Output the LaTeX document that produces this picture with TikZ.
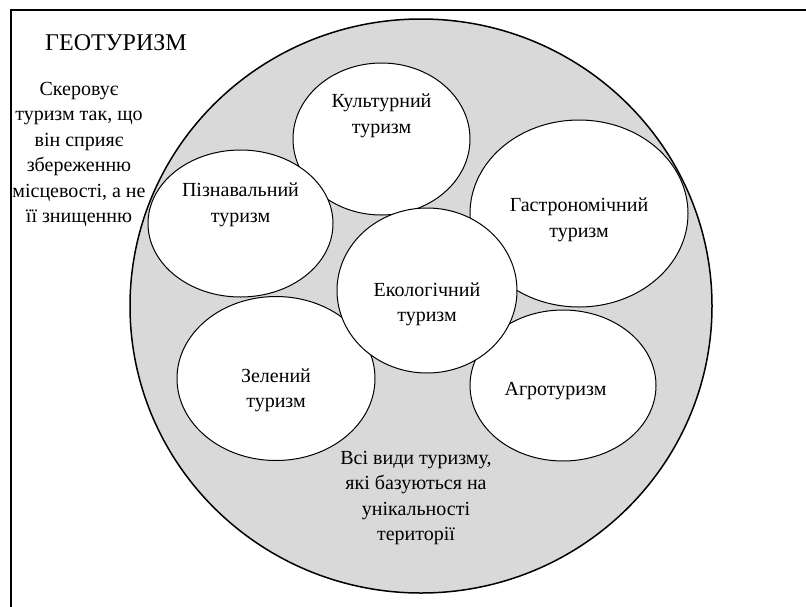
\documentclass[tikz,border=0pt]{standalone}
\usepackage{fontspec}
\setmainfont{Liberation Serif}
\usepackage{tikz}
\usetikzlibrary{shapes.geometric}
\definecolor{geoGrey}{HTML}{D9D9D9}

\begin{document}
\begin{tikzpicture}[x=1pt, y=-1pt, font=\fontsize{20}{25.5}\selectfont,
  tourOval/.style={draw=black, line width=1pt, fill=white, ellipse, inner sep=0pt},
  tourText/.style={align=center, inner sep=0pt}]
  \useasboundingbox (0,0) rectangle (806,606);
  \clip (0,0) rectangle (806,606);
  \node[draw=black, line width=2pt, minimum width=820pt, minimum height=620pt, anchor=north west] (frame) at (10,9) {};
  \node[draw=black, line width=1.5pt, fill=geoGrey, ellipse, inner sep=0pt, minimum width=582pt, minimum height=574pt] (geo) at (421,306) {};
  % kinds of tourism
  \node[tourOval, minimum width=177pt, minimum height=152pt] (cult) at (381.5,139) {};
  \node[tourOval, minimum width=185pt, minimum height=147pt] (pizn) at (240.5,223.5) {};
  \node[tourOval, minimum width=218pt, minimum height=187pt] (gastro) at (579,213.5) {};
  \node[tourOval, minimum width=198pt, minimum height=164pt] (zelen) at (276,378.5) {};
  \node[tourOval, minimum width=186pt, minimum height=151pt] (agro) at (563,385.5) {};
  \node[tourOval, minimum width=180pt, minimum height=165pt] (eco) at (427,290.5) {};
  \node[tourText] (cultText) at ([yshift=23pt]cult.center) {Культурний\\туризм};
  \node[tourText] (piznText) at ([yshift=18.5pt]pizn.center) {Пізнавальний\\туризм};
  \node[tourText] (gastroText) at ([yshift=-6.5pt]gastro.center) {Гастрономічний\\туризм};
  \node[tourText] (zelenText) at ([yshift=-12pt]zelen.center) {Зелений\\туризм};
  \node[tourText] (agroText) at ([xshift=-7.5pt, yshift=-5.5pt]agro.center) {Агротуризм};
  \node[tourText] (ecoText) at ([yshift=-14pt]eco.center) {Екологічний\\туризм};
  % texts outside the ovals
  \node[tourText, font=\fontsize{24}{28}\selectfont] (title) at (116,43) {ГЕОТУРИЗМ};
  \node[tourText] (aim) at (79,154.5) {Скеровує\\туризм так, що\\він сприяє\\збереженню\\місцевості, а не\\її знищенню};
  \node[tourText] (scope) at (416,498) {Всі види туризму,\\які базуються на\\унікальності\\території};
\end{tikzpicture}
\end{document}
